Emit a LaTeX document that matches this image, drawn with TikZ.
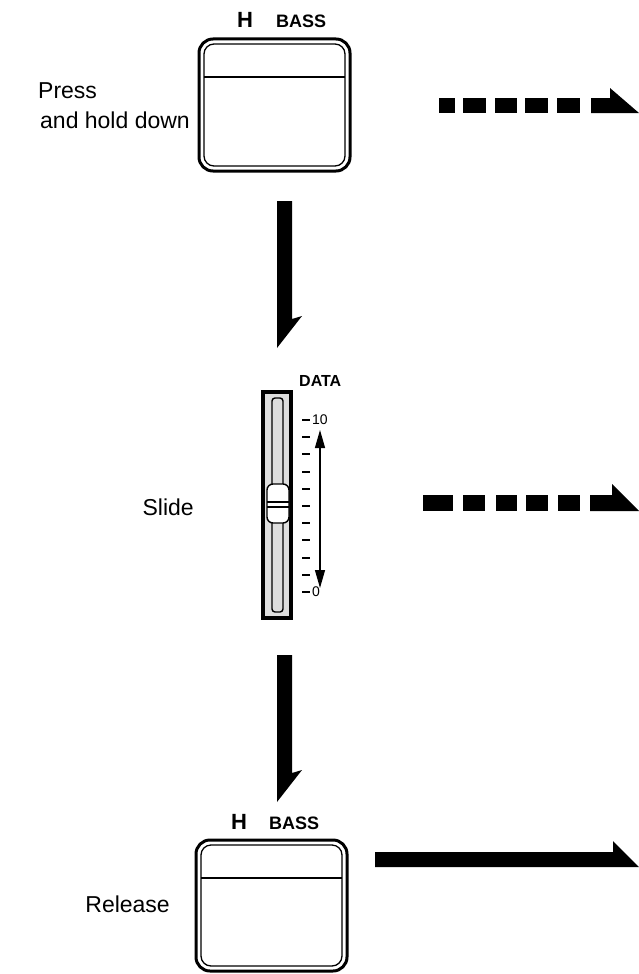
\documentclass[tikz,border=0pt]{standalone}
\usepackage{fontspec}
\setmainfont{Liberation Sans}
\usetikzlibrary{arrows.meta}
\begin{document}
\begin{tikzpicture}[x=1pt,y=-1pt,
  lbl/.style={inner sep=0pt, font=\fontsize{23}{27}\selectfont},
  hlbl/.style={inner sep=0pt, font=\bfseries\fontsize{22}{26}\selectfont},
  blbl/.style={inner sep=0pt, font=\bfseries\fontsize{18}{21}\selectfont},
  dlbl/.style={inner sep=0pt, font=\bfseries\fontsize{16}{19}\selectfont},
  scl/.style={inner sep=0pt, font=\fontsize{14}{16}\selectfont},
  outerframe/.style={line width=3pt, rounded corners=14pt},
  innerframe/.style={line width=1.3pt, rounded corners=10pt},
  fatarrow/.style={fill=black, draw=none},
  stipple/.style={fill=black!13}]
\useasboundingbox (0,0) rectangle (639,974);

% ---------- top button ----------
\node[hlbl] (h1) at (245,20) {H};
\node[blbl, anchor=west] (bass1) at (276,21) {BASS};
\draw[outerframe] (199,39) rectangle (350,171);
\draw[innerframe] (204,44) rectangle (345,166);
\draw[line width=1.3pt] (204,77) -- (345,77);
\node[lbl, anchor=base west] (press) at (38,99) {Press};
\node[lbl, anchor=base east] (hold) at (190,128) {and hold down};

% top dashed arrow
\foreach \a/\b in {439/455,463/486,495/517,525/548,557/580}
  \fill (\a,98) rectangle (\b,113);
\path[fatarrow] (591,98) -- (610,98) -- (610,88) -- (639,113) -- (591,113) -- cycle;

% first down arrow
\coordinate (d1) at (277,201);
\path[fatarrow] (d1) -- ++(15,0) -- ++(0,118) -- ++(10,-3) -- (277,348) -- cycle;

% ---------- slider ----------
\node[dlbl, anchor=west] (data) at (299,381) {DATA};
\draw[line width=4pt, stipple] (263,392) rectangle (291,618);
\draw[line width=1.4pt, stipple, rounded corners=3pt] (272,398) rectangle (283,612);
\draw[line width=1.4pt, fill=white, rounded corners=6pt] (267,484) rectangle (289,523);
\draw[line width=1.2pt] (267,502) -- (289,502) (267,507) -- (289,507);
\foreach \i in {0,...,10}
  \draw[line width=2pt] (302,420+\i*17.2) -- (310,420+\i*17.2);
\node[scl, anchor=west] (ten) at (312,420) {10};
\node[scl, anchor=west] (zero) at (312,592) {0};
\coordinate (rtop) at (320,430);
\coordinate (rbot) at (320,588);
\draw[line width=1.2pt, {Triangle[length=18pt,width=10pt]}-{Triangle[length=18pt,width=10pt]}] (rtop) -- (rbot);
\node[lbl, anchor=east] (slide) at (194,507) {Slide};

% middle dashed arrow
\foreach \a/\b in {423/453,463/485,496/517,526/548,558/580}
  \fill (\a,495) rectangle (\b,511);
\path[fatarrow] (590,495) -- (612,495) -- (612,484) -- (639,511) -- (590,511) -- cycle;

% second down arrow
\coordinate (d2) at (277,655);
\path[fatarrow] (d2) -- ++(15,0) -- ++(0,118) -- ++(10,-3) -- (277,802) -- cycle;

% ---------- bottom button ----------
\node[hlbl] (h2) at (239,822) {H};
\node[blbl, anchor=west] (bass2) at (269,823) {BASS};
\draw[outerframe] (196,840) rectangle (347,971);
\draw[innerframe] (201,845) rectangle (342,966);
\draw[line width=1.3pt] (201,878) -- (342,878);
\node[lbl, anchor=east] (release) at (170,904) {Release};

% bottom solid arrow
\path[fatarrow] (375,852) -- (613,852) -- (613,841) -- (639,867) -- (375,867) -- cycle;
\end{tikzpicture}
\end{document}
